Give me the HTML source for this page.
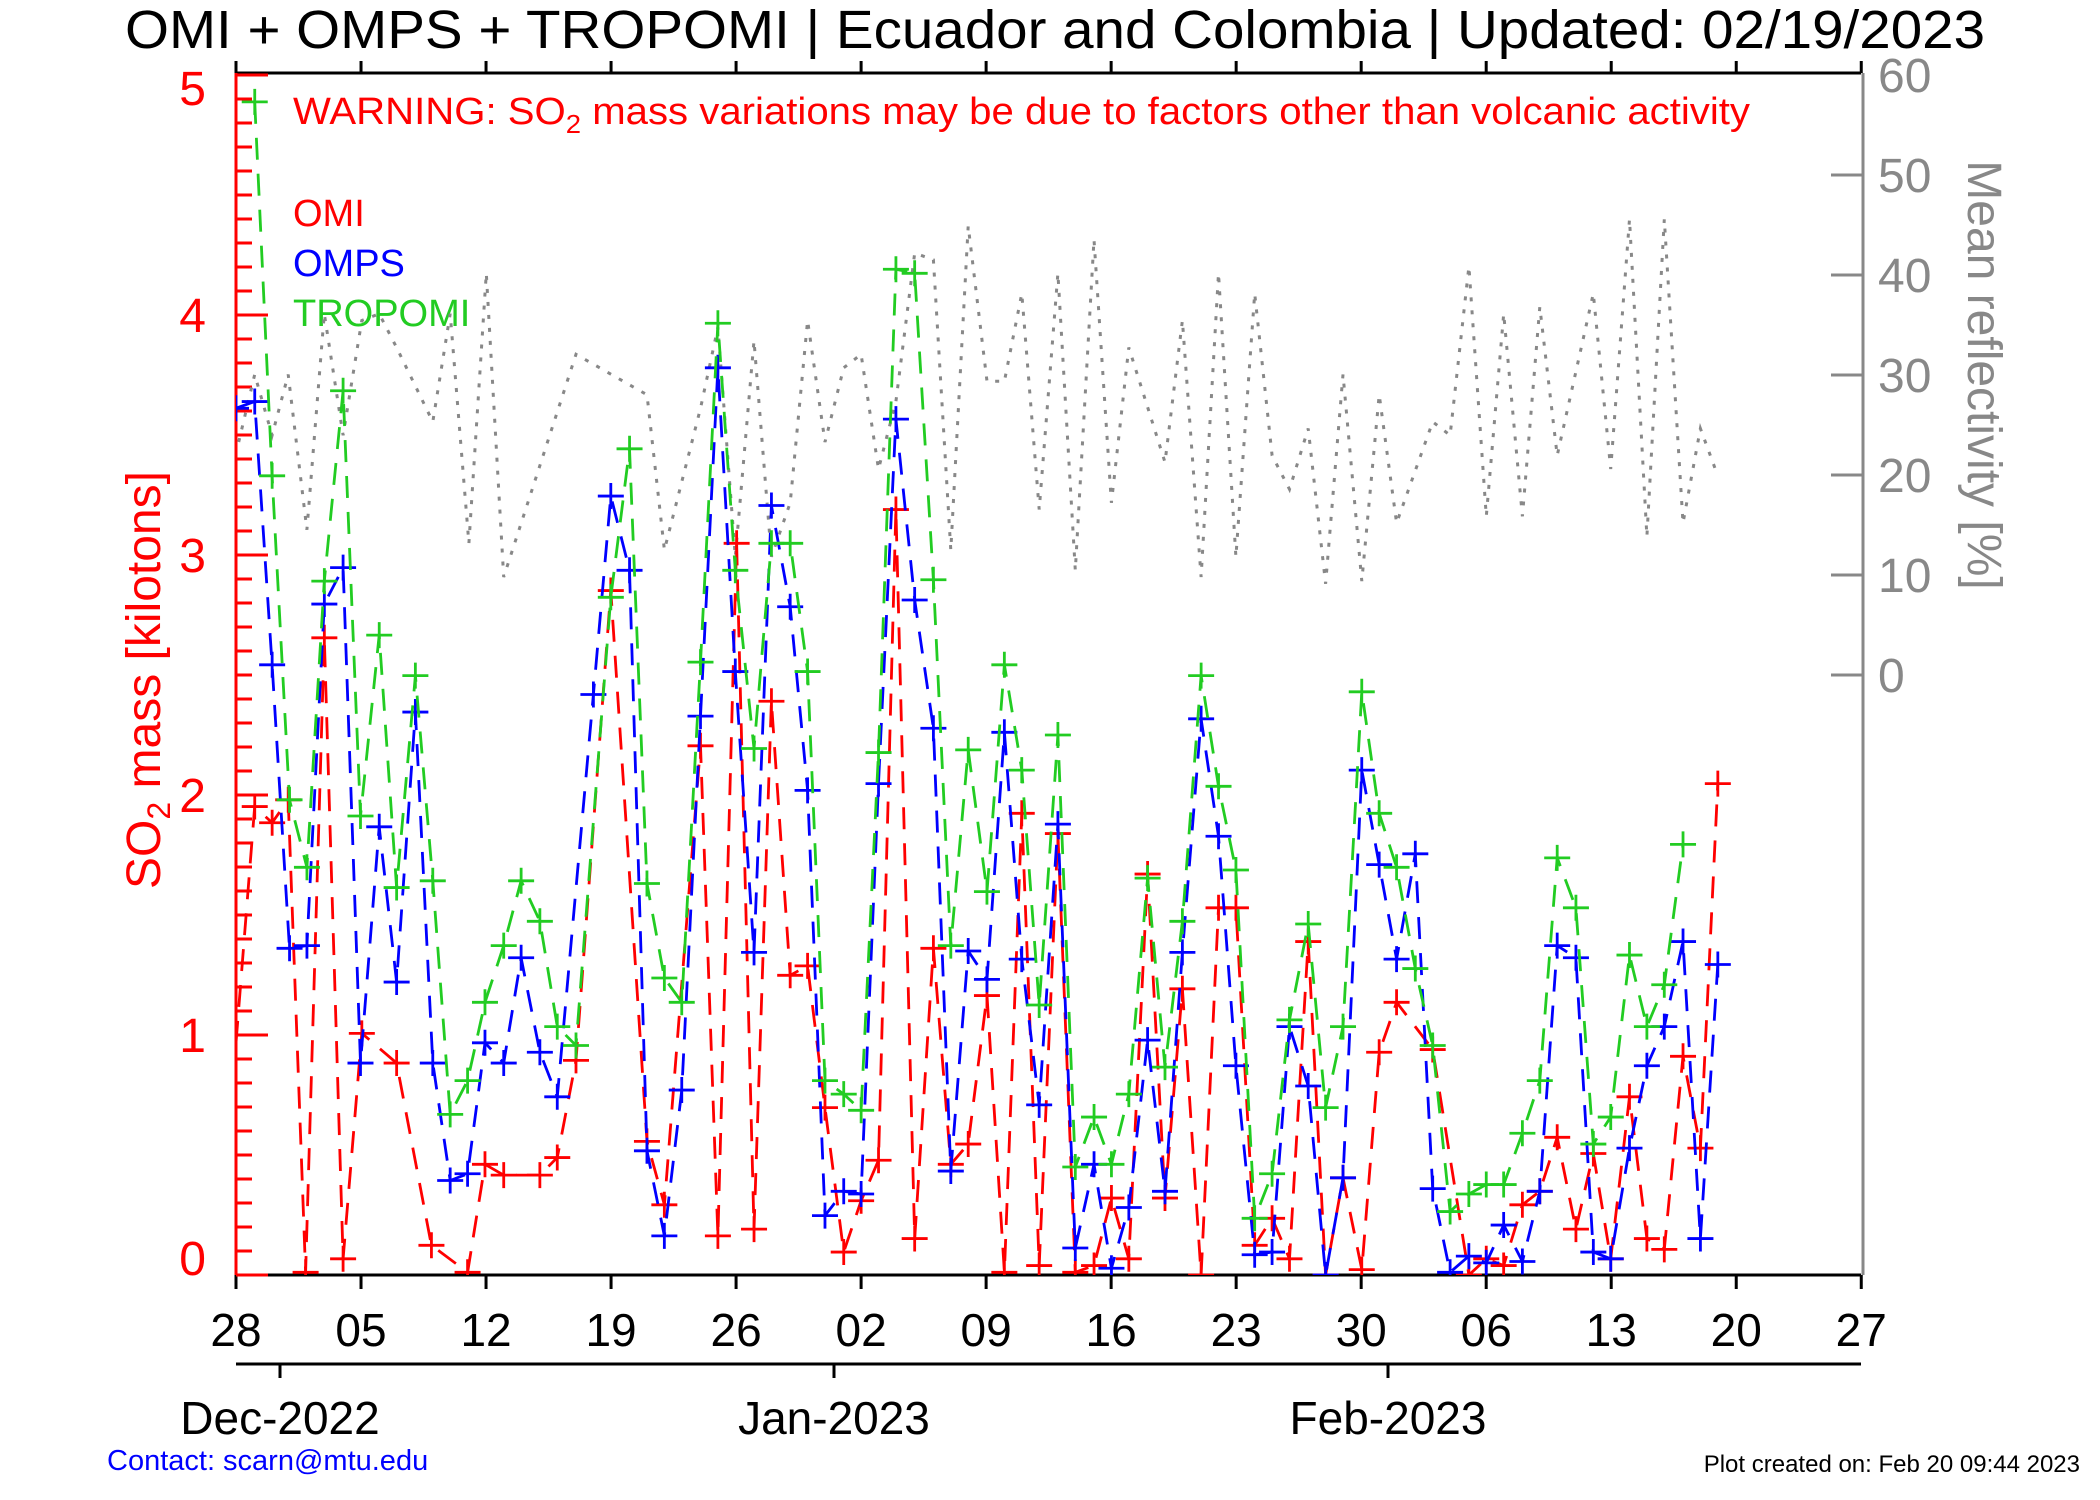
<!DOCTYPE html>
<html><head><meta charset="utf-8">
<style>
html,body{margin:0;padding:0;background:#fff;}
svg{display:block;font-family:"Liberation Sans",Arial,sans-serif;}
</style></head>
<body>
<svg id="s" width="2100" height="1500" viewBox="0 0 2100 1500" xmlns="http://www.w3.org/2000/svg">
<defs><clipPath id="cp"><rect x="236" y="73" width="1625" height="1202"/></clipPath></defs>
<text x="1055" y="48" font-size="54" text-anchor="middle" textLength="1860" lengthAdjust="spacingAndGlyphs">OMI + OMPS + TROPOMI | Ecuador and Colombia | Updated: 02/19/2023</text>
<text x="293" y="124" font-size="38" fill="#f00" textLength="1457" lengthAdjust="spacingAndGlyphs">WARNING: SO<tspan font-size="26" dy="9">2</tspan><tspan dy="-9"> mass variations may be due to factors other than volcanic activity</tspan></text>
<text x="293" y="226" font-size="38" fill="#f00">OMI</text>
<text x="293" y="276" font-size="38" fill="#00f">OMPS</text>
<text x="293" y="326" font-size="38" fill="#2c2">TROPOMI</text>
<text transform="translate(160,680) rotate(-90)" font-size="48" fill="#f00" text-anchor="middle">SO<tspan font-size="32" dy="10">2</tspan><tspan dy="-10"> mass [kilotons]</tspan></text>
<text transform="translate(1968,375) rotate(90)" font-size="48" fill="#888" text-anchor="middle">Mean reflectivity [%]</text>
<text x="107" y="1470" font-size="29" fill="#00f">Contact: scarn@mtu.edu</text>
<text x="2080" y="1472" font-size="24" text-anchor="end">Plot created on: Feb 20 09:44 2023</text>
<g id="axes"></g>
<g id="data" clip-path="url(#cp)"></g>
</svg>
<script>
var NS="http://www.w3.org/2000/svg";
function el(p,t,a,txt){var e=document.createElementNS(NS,t);for(var k in a)e.setAttribute(k,a[k]);if(txt!==undefined)e.textContent=txt;p.appendChild(e);return e;}
var ax=document.getElementById('axes'),dg=document.getElementById('data');
var L=236,R=1861,T=73,B=1275,DAY=17.86;
// top & bottom axes
el(ax,'line',{x1:L,y1:T,x2:R,y2:T,stroke:'#000','stroke-width':3});
el(ax,'line',{x1:L,y1:B,x2:R,y2:B,stroke:'#000','stroke-width':3});
var lab=['28','05','12','19','26','02','09','16','23','30','06','13','20','27'];
for(var k=0;k<14;k++){var x=L+k*7*DAY;
 el(ax,'line',{x1:x,y1:B,x2:x,y2:B+14,stroke:'#000','stroke-width':3});
 el(ax,'line',{x1:x,y1:T,x2:x,y2:T-12,stroke:'#000','stroke-width':3});
 el(ax,'text',{x:x,y:1346,'font-size':46,'text-anchor':'middle'},lab[k]);}
el(ax,'line',{x1:L,y1:1364,x2:R,y2:1364,stroke:'#000','stroke-width':3});
[[280,'Dec-2022'],[834,'Jan-2023'],[1388,'Feb-2023']].forEach(function(m){
 el(ax,'line',{x1:m[0],y1:1364,x2:m[0],y2:1378,stroke:'#000','stroke-width':3});
 el(ax,'text',{x:m[0],y:1434,'font-size':46,'text-anchor':'middle'},m[1]);});
// left axis
el(ax,'line',{x1:L,y1:T,x2:L,y2:B,stroke:'#f00','stroke-width':3});
for(var i=0;i<=50;i++){var y=B-24*i;if(y<T-1)break;var maj=(i%10==0);
 el(ax,'line',{x1:L,y1:y,x2:L+(maj?32:16),y2:y,stroke:'#f00','stroke-width':3});}
[[1258,'0'],[1035,'1'],[795,'2'],[555,'3'],[315,'4'],[88,'5']].forEach(function(t){
 el(ax,'text',{x:206,y:t[0]+17,'font-size':48,fill:'#f00','text-anchor':'end'},t[1]);});
// right axis
el(ax,'line',{x1:R+2,y1:T,x2:R+2,y2:B,stroke:'#888','stroke-width':3});
for(var r=0;r<=60;r+=10){var y=675-10*r;
 if(r<60)el(ax,'line',{x1:R+2,y1:y,x2:R-30,y2:y,stroke:'#888','stroke-width':3});
 el(ax,'text',{x:1878,y:y+17,'font-size':48,fill:'#888'},String(r));}
// data in display coords
function X(dx){return 236+(dx-176)*1.3386;}
function Y(dy){return 1275+(dy-952)*1.35;}
var gray=[[178,335],[190,285],[203,330],[215,285],[229,400],[242,240],[256,330],[270,245],[283,240],[296,265],[323,320],[336,240],[350,410],[363,210],[376,435],[430,270],[483,300],[496,415],[523,310],[536,250],[549,420],[563,260],[576,420],[590,380],[603,245],[616,335],[630,280],[643,270],[656,355],[669,305],[683,195],[697,200],[710,415],[723,175],[737,290],[750,290],[763,225],[776,385],[790,210],[803,430],[817,185],[830,380],[843,265],[870,350],[883,245],[897,435],[910,210],[923,420],[937,225],[950,345],[963,370],[977,325],[990,440],[1003,285],[1017,438],[1030,300],[1043,395],[1070,320],[1083,330],[1097,205],[1110,390],[1123,240],[1137,390],[1150,235],[1163,345],[1190,225],[1203,355],[1217,170],[1230,405],[1243,170],[1257,395],[1270,325],[1283,360]];
var red=[[176,780],[190,605],[203,617],[215,600],[228,950],[242,480],[256,940],[270,773],[296,795],[322,930],[349,950],[362,870],[376,878],[403,878],[416,865],[430,793],[456,445],[483,853],[496,900],[523,560],[536,923],[550,410],[563,918],[576,527],[590,730],[603,723],[616,828],[630,935],[643,897],[656,867],[669,385],[683,925],[697,710],[710,870],[723,855],[737,745],[750,950],[763,610],[776,945],[790,625],[803,950],[817,945],[830,895],[843,940],[857,655],[870,895],[883,740],[897,952],[910,680],[923,680],[937,930],[950,910],[963,940],[977,705],[990,952],[1003,880],[1017,948],[1030,787],[1043,750],[1070,785],[1097,952],[1110,940],[1123,945],[1137,900],[1150,890],[1163,850],[1177,918],[1190,862],[1203,940],[1217,820],[1230,925],[1243,933],[1257,790],[1270,858],[1283,588]];
var blue=[[176,310],[190,305],[203,500],[216,710],[229,708],[242,455],[256,428],[269,795],[283,620],[296,735],[310,535],[323,795],[336,882],[349,877],[362,780],[376,795],[389,717],[403,787],[416,820],[443,522],[456,375],[470,430],[483,860],[496,923],[509,815],[523,538],[536,280],[549,505],[563,713],[576,382],[590,457],[603,593],[616,908],[630,890],[643,892],[656,588],[669,318],[683,452],[697,547],[710,875],[723,712],[737,733],[750,550],[763,718],[776,826],[790,618],[803,932],[817,870],[830,947],[843,902],[857,778],[870,890],[883,713],[897,540],[910,627],[923,797],[937,937],[950,935],[963,768],[977,812],[990,952],[1003,880],[1017,578],[1030,648],[1043,718],[1057,640],[1070,888],[1083,950],[1097,938],[1110,943],[1123,915],[1137,942],[1150,890],[1163,708],[1177,717],[1190,935],[1203,940],[1217,858],[1230,797],[1243,768],[1257,705],[1270,925],[1283,722]];
var green=[[190,83],[203,360],[216,600],[229,650],[242,438],[256,297],[269,612],[283,478],[296,665],[310,508],[323,660],[336,833],[349,808],[362,750],[376,708],[389,660],[403,690],[416,768],[430,782],[456,450],[470,340],[483,662],[496,732],[509,750],[523,498],[536,247],[549,430],[563,562],[576,410],[590,410],[603,505],[616,808],[630,818],[643,830],[656,565],[669,207],[683,210],[697,437],[710,708],[723,563],[737,668],[750,500],[763,578],[776,752],[790,552],[803,872],[817,835],[830,870],[843,818],[857,658],[870,798],[883,690],[897,508],[910,590],[923,652],[937,910],[950,877],[963,763],[977,692],[990,828],[1003,768],[1017,520],[1030,610],[1043,650],[1057,725],[1070,782],[1083,905],[1097,892],[1110,885],[1123,885],[1137,847],[1150,808],[1163,643],[1177,680],[1190,855],[1203,835],[1217,715],[1230,768],[1243,737],[1257,633]];
function pts(a){return a.map(function(p){return X(p[0]).toFixed(1)+','+Y(p[1]).toFixed(1);}).join(' ');}
el(dg,'polyline',{points:pts(gray),fill:'none',stroke:'#888','stroke-width':3,'stroke-dasharray':'4 9'});
function series(a,c,mark){
 el(dg,'polyline',{points:pts(a),fill:'none',stroke:c,'stroke-width':2.8,'stroke-dasharray':'22 14'});
 a.forEach(function(p,i){if(!mark&&i==0)return;var x=X(p[0]),y=Y(p[1]);
  el(dg,'path',{d:'M'+(x-13)+' '+y+'H'+(x+13)+'M'+x+' '+(y-13)+'V'+(y+13),stroke:c,'stroke-width':2.8,fill:'none'});});}
series(red,'#f00',false);series(blue,'#00f',true);series(green,'#2c2',true);
</script>
</body></html>
